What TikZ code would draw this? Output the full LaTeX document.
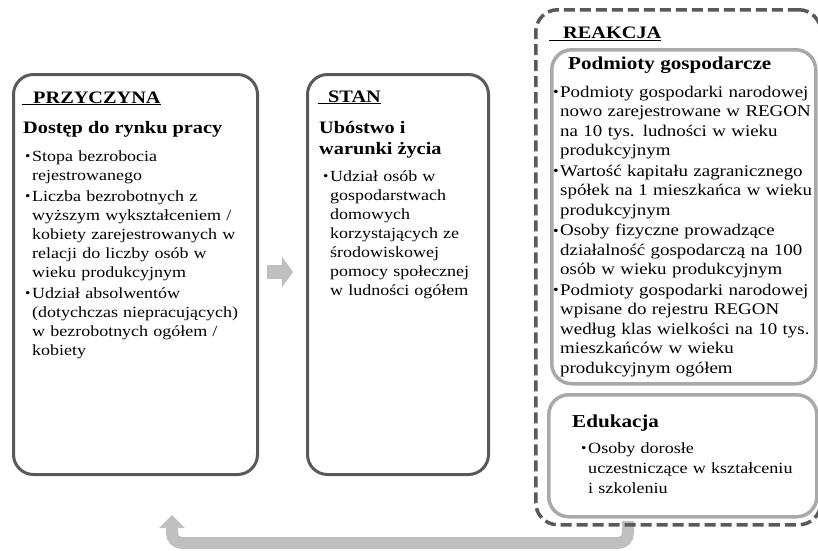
\documentclass[tikz,border=0pt]{standalone}
\usepackage{fontspec}
\setmainfont{Liberation Serif}[FakeStretch=1.16]
\usetikzlibrary{arrows.meta}
\definecolor{dk}{HTML}{595959}
\definecolor{lt}{HTML}{A9A9A9}
\definecolor{ar}{HTML}{BFBFBF}
\newlength\bind
\setlength\bind{7pt}
\newcommand\bitem[1]{\hangindent=\bind\hangafter=1\noindent\strut\makebox[\bind][l]{\raisebox{0.6pt}{\scalebox{0.85}{•}}}#1\par}
\tikzset{
  darkbox/.style={draw=dk, line width=3pt, rounded corners=20pt, inner sep=0pt, anchor=north west},
  lightbox/.style={draw=lt, line width=3.5pt, rounded corners=20pt, inner sep=0pt, anchor=north west},
  dashbox/.style={draw=dk, line width=3.5pt, dash pattern=on 11pt off 5pt, rounded corners=22pt, inner sep=0pt, anchor=north west},
  titletext/.style={font=\fontsize{17.5}{20.5}\selectfont\bfseries, inner sep=0pt, anchor=base west},
  headtext/.style={font=\fontsize{17.5}{20.5}\selectfont\bfseries, inner sep=0pt, anchor=base west},
  rheadtext/.style={font=\fontsize{18.2}{21}\selectfont\bfseries, inner sep=0pt, anchor=base west},
  bodytext/.style={font=\fontsize{15.5}{19}\selectfont, inner sep=0pt, anchor=north west, text width=300pt},
  rbodytext/.style={font=\fontsize{16.3}{19.5}\selectfont, inner sep=0pt, anchor=north west, text width=300pt},
  smalltext/.style={font=\fontsize{15.6}{20}\selectfont, inner sep=0pt, anchor=north west, text width=300pt},
  blockarrow/.style={color=ar, line width=14pt, -{Triangle[width=30pt,length=11pt]}},
  backarrow/.style={color=ar, line width=12pt, rounded corners=10pt, -{Triangle[width=25pt,length=13pt]}},
}
\begin{document}
\begin{tikzpicture}[x=1pt,y=-1pt]
\useasboundingbox (0,0) rectangle (818,550);
% connectors
\coordinate (a1) at (267,272);
\coordinate (a2) at (293,272);
\draw[blockarrow] (a1) -- (a2);
\coordinate (fb1) at (628,521);
\coordinate (fb2) at (628,543);
\coordinate (fb3) at (172,543);
\coordinate (fb4) at (172,515);
\draw[backarrow] (fb1) -- (fb2) -- (fb3) -- (fb4);
% boxes
\node[darkbox, minimum width=244pt, minimum height=400pt] (przyczyna) at (12,73) {};
\node[darkbox, minimum width=181pt, minimum height=400pt] (stan) at (306,73) {};
\node[dashbox, minimum width=285pt, minimum height=515pt] (reakcja) at (534,8) {};
\node[lightbox, minimum width=264pt, minimum height=334pt] (podmioty) at (550,48) {};
\node[lightbox, minimum width=268pt, minimum height=122pt] (edukacja) at (547,393) {};
% PRZYCZYNA
\node[titletext] (t1) at (22,103) {\underline{\hspace{11pt}PRZYCZYNA}};
\node[headtext] (h1) at (23,133) {Dostęp do rynku pracy};
\node[bodytext] (b1) at (25,147.7) {%
\bitem{Stopa bezrobocia\newline rejestrowanego}\vspace{2pt}%
\bitem{Liczba bezrobotnych z\newline wyższym wykształceniem /\newline kobiety zarejestrowanych w\newline relacji do liczby osób w\newline wieku produkcyjnym}\vspace{2pt}%
\bitem{Udział absolwentów\newline (dotychczas niepracujących)\newline w bezrobotnych ogółem /\newline kobiety}};
% STAN
\node[titletext] (t2) at (318,102) {\underline{\hspace{10pt}STAN}};
\node[headtext] (h2a) at (319,133) {Ubóstwo i};
\node[headtext] (h2b) at (319,154) {warunki życia};
\node[bodytext] (b2) at (323,167.7) {%
\bitem{Udział osób w\newline gospodarstwach\newline domowych\newline korzystających ze\newline środowiskowej\newline pomocy społecznej\newline w ludności ogółem}};
% REAKCJA
\node[titletext] (t3) at (549,38.5) {\underline{\hspace{14pt}REAKCJA}};
\node[rheadtext] (h3) at (568,69) {Podmioty gospodarcze};
\node[rbodytext] (b3) at (553,83.35) {%
\bitem{Podmioty gospodarki narodowej\newline nowo zarejestrowane w REGON\newline na 10 tys. ludności w wieku\newline produkcyjnym}\vspace{1pt}%
\bitem{Wartość kapitału zagranicznego\newline spółek na 1 mieszkańca w wieku\newline produkcyjnym}\vspace{1pt}%
\bitem{Osoby fizyczne prowadzące\newline działalność gospodarczą na 100\newline osób w wieku produkcyjnym}\vspace{1pt}%
\bitem{Podmioty gospodarki narodowej\newline wpisane do rejestru REGON\newline według klas wielkości na 10 tys.\newline mieszkańców w wieku\newline produkcyjnym ogółem}};
\node[rheadtext] (h4) at (572,427) {Edukacja};
\node[smalltext] (b4) at (581,439) {%
\bitem{Osoby dorosłe\newline uczestniczące w kształceniu\newline i szkoleniu}};
\end{tikzpicture}
\end{document}
